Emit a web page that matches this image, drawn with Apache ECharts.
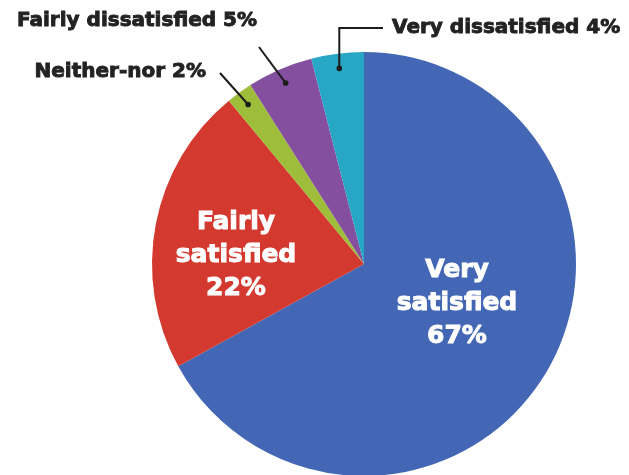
<!DOCTYPE html>
<html>
<head>
<meta charset="utf-8">
<script src="https://cdn.jsdelivr.net/npm/echarts@6/dist/echarts.min.js"></script>
<style>
  html, body { margin: 0; padding: 0; background: #ffffff; }
  #chart { width: 629px; height: 475px; }
</style>
</head>
<body>
<div id="chart"></div>
<script>
// Survey result: overall satisfaction
const categories = ['Very satisfied', 'Fairly satisfied', 'Neither-nor', 'Fairly dissatisfied', 'Very dissatisfied'];
const shares = [67, 22, 2, 5, 4];
const colors = ['#4367b5', '#d3392f', '#9ebd3a', '#844f9f', '#28a6c6'];

// pie geometry
const CX = 364, CY = 264, R = 212;
const FONT = '"DejaVu Sans", sans-serif';

// label placement: inside labels are centred, outside ones are anchored at one end
const labelSpots = [
  { x: 457, y: 303, align: 'center' },
  { x: 236, y: 255, align: 'center' },
  { x: 206, y: 72, align: 'right' },
  { x: 257, y: 21, align: 'right' },
  { x: 392, y: 28, align: 'left' }
];
// leader-line bends for the outside labels (null = label sits inside the slice);
// a null x keeps the first segment vertical above the anchor
const leaderBends = [null, null, [[220, 73]], [[259, 47]], [[null, 28], [383, 28]]];

const total = shares.reduce((a, b) => a + b, 0);
// mid angle of each slice, clockwise from 12 o'clock, in radians
const midAngles = [];
let acc = 0;
shares.forEach(v => {
  midAngles.push(((acc + v / 2) / total) * Math.PI * 2);
  acc += v;
});
const anchorPoint = i => {
  const r = R * 0.93;
  return [CX + r * Math.sin(midAngles[i]), CY - r * Math.cos(midAngles[i])];
};

const isInside = i => leaderBends[i] === null;

// leader lines and their end dots, running from each small slice to its label
const leaders = [];
shares.forEach((v, i) => {
  if (isInside(i)) return;
  const p = anchorPoint(i);
  const bends = leaderBends[i].map(b => [b[0] === null ? p[0] : b[0], b[1]]);
  leaders.push({
    type: 'polyline',
    z: 100,
    shape: { points: [p].concat(bends) },
    style: { stroke: '#1c1c1c', lineWidth: 2, fill: null }
  });
  leaders.push({
    type: 'circle',
    z: 101,
    shape: { cx: p[0], cy: p[1], r: 2.8 },
    style: { fill: '#1c1c1c' }
  });
});

const chart = echarts.init(document.getElementById('chart'), null, { renderer: 'canvas' });

chart.setOption({
  backgroundColor: '#ffffff',
  animation: false,
  graphic: leaders,
  series: [{
    type: 'pie',
    center: [CX, CY],
    radius: R,
    startAngle: 90,
    clockwise: true,
    avoidLabelOverlap: false,
    data: categories.map((c, i) => ({
      name: c,
      value: shares[i],
      itemStyle: { color: colors[i] },
      label: isInside(i)
        ? { position: 'inside', color: '#ffffff', fontSize: 25, lineHeight: 33,
            textBorderColor: '#ffffff', textBorderWidth: 1 }
        : { position: 'outside', color: '#222222', fontSize: 20,
            textBorderColor: '#222222', textBorderWidth: 0.9 }
    })),
    itemStyle: { borderWidth: 0 },
    label: {
      show: true,
      fontFamily: FONT,
      fontWeight: 'bold',
      formatter: p => isInside(p.dataIndex)
        ? p.name.replace(' ', '\n') + '\n' + p.value + '%'
        : p.name + ' ' + p.value + '%'
    },
    labelLine: { show: false },
    labelLayout: params => {
      const s = labelSpots[params.dataIndex];
      return { x: s.x, y: s.y, align: s.align, verticalAlign: 'middle' };
    }
  }]
});
</script>
</body>
</html>
